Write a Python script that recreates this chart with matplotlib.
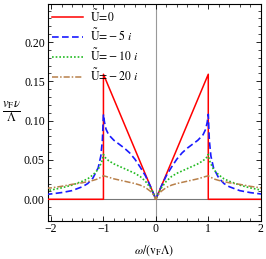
import numpy as np
import matplotlib
matplotlib.use('Agg')
from matplotlib import pyplot as plt
from matplotlib.ticker import MultipleLocator

plt.rcParams['font.family'] = ['Liberation Serif', 'DejaVu Serif']
plt.rcParams['mathtext.fontset'] = 'stix'

# positive half of each curve (the spectra are symmetric in omega)
w_red = [0.0, 1.0, 1.0, 2.1]
nu_red = [0.0, 0.159, 0.0, 0.0]

w_in = [0.0, 0.05, 0.1, 0.2, 0.3, 0.4, 0.5, 0.6, 0.7, 0.8, 0.9, 0.95, 0.98, 1.0]
w_out = [1.0, 1.02, 1.05, 1.1, 1.2, 1.3, 1.4, 1.6, 1.8, 2.0, 2.1]

nu_blue_in = [0.0, 0.008, 0.016, 0.030, 0.041, 0.051, 0.059, 0.065, 0.070, 0.075, 0.082, 0.089, 0.098, 0.108]
nu_blue_out = [0.108, 0.075, 0.055, 0.040, 0.027, 0.020, 0.016, 0.011, 0.0085, 0.0068, 0.006]

nu_green_in = [0.0, 0.008, 0.014, 0.023, 0.029, 0.033, 0.036, 0.039, 0.042, 0.045, 0.049, 0.052, 0.054, 0.057]
nu_green_out = [0.057, 0.050, 0.045, 0.038, 0.031, 0.026, 0.023, 0.018, 0.0145, 0.0118, 0.011]

nu_brown_in = [0.0, 0.006, 0.010, 0.015, 0.018, 0.020, 0.0215, 0.023, 0.0245, 0.026, 0.028, 0.029, 0.0295, 0.030]
nu_brown_out = [0.030, 0.029, 0.028, 0.026, 0.024, 0.0225, 0.021, 0.019, 0.0165, 0.0145, 0.014]

labels = [r'$\tilde{\mathrm{U}}\!=\!0$', r'$\tilde{\mathrm{U}}\!=\!-5\ i$',
          r'$\tilde{\mathrm{U}}\!=\!-10\ i$', r'$\tilde{\mathrm{U}}\!=\!-20\ i$']


def both_sides(w_pos, v_pos):
    w_pos = np.asarray(w_pos)
    v_pos = np.asarray(v_pos)
    return np.concatenate([-w_pos[::-1], w_pos]), np.concatenate([v_pos[::-1], v_pos])


fig = plt.figure(figsize=(2.66, 2.59), dpi=100)
ax = fig.add_axes([0.179, 0.148, 0.803, 0.838])

ax.axhline(0, color='#777777', lw=0.8, zorder=1)
ax.axvline(0, color='#999999', lw=0.8, zorder=1)

x, y = both_sides(w_red, nu_red)
ax.plot(x, y, color='red', lw=1.1, label=labels[0], zorder=3)
x, y = both_sides(w_in + w_out[1:], nu_blue_in + nu_blue_out[1:])
ax.plot(x, y, color='#1a1aff', lw=1.2, ls=(0, (4, 2)), label=labels[1], zorder=4)
x, y = both_sides(w_in + w_out[1:], nu_green_in + nu_green_out[1:])
ax.plot(x, y, color='#22bb22', lw=1.2, ls=(0, (1, 1.2)), label=labels[2], zorder=4)
x, y = both_sides(w_in + w_out[1:], nu_brown_in + nu_brown_out[1:])
ax.plot(x, y, color='#b8804a', lw=1.1, ls=(0, (4, 1.3, 1, 1.3)), label=labels[3], zorder=4)

ax.set_xlim(-2.065, 2.01)
ax.set_ylim(-0.0272, 0.2488)
ax.xaxis.set_major_locator(MultipleLocator(1))
ax.xaxis.set_minor_locator(MultipleLocator(0.2))
ax.yaxis.set_major_locator(MultipleLocator(0.05))
ax.yaxis.set_minor_locator(MultipleLocator(0.01))
ax.yaxis.set_major_formatter(matplotlib.ticker.FormatStrFormatter('%.2f'))
ax.tick_params(which='both', direction='in', top=True, right=True, labelsize=8.5, pad=2)
ax.tick_params(which='major', length=3.5, width=0.6)
ax.tick_params(which='minor', length=2, width=0.5)
for s in ax.spines.values():
    s.set_linewidth(0.8)

ax.set_xlabel(r'$\omega/(\mathrm{v}_\mathrm{F}\Lambda)$', fontsize=8.5, labelpad=6)
ax.set_ylabel(r'$\dfrac{v_\mathrm{F}\nu}{\Lambda}$', fontsize=9, rotation=0, va='center', ha='center')
ax.yaxis.set_label_coords(-0.167, 0.505)

ax.legend(loc='upper left', fontsize=8.5, frameon=False, handlelength=2.6,
          handletextpad=0.6, labelspacing=0.3, borderaxespad=0.1,
          borderpad=0.3)

fig.savefig('out.png', dpi=100)
